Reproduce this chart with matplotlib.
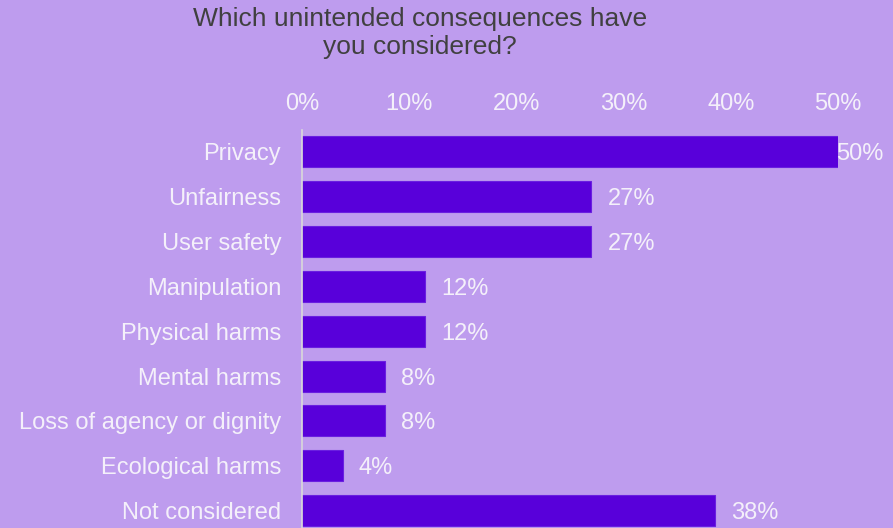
import matplotlib.pyplot as plt
import numpy as np

plt.rcParams['font.family'] = ['Liberation Sans', 'DejaVu Sans']

# ---------------- DATA ----------------
categories = ["Privacy", "Unfairness", "User safety", "Manipulation", "Physical harms",
              "Mental harms", "Loss of agency or dignity", "Ecological harms", "Not considered"]
values = [50, 27, 27, 11.5, 11.5, 7.7, 7.7, 3.8, 38.5]
value_labels = ["50%", "27%", "27%", "12%", "12%", "8%", "8%", "4%", "38%"]
x_ticks = [0, 10, 20, 30, 40, 50]
title = "Which unintended consequences have\nyou considered?"
# --------------------------------------

BG = "#BE9CEE"
BAR = "#5800DA"
WHITE = "#F4F0FA"
FS = 17

fig = plt.figure(figsize=(8.93, 5.28), dpi=100, facecolor=BG)
ax = fig.add_axes([302 / 893, 0, (838 - 302) / 893, 1 - 130 / 528])
ax.set_facecolor(BG)

y = np.arange(len(categories))
ax.barh(y, values, height=0.69, color=BAR, edgecolor="#6A1FE0", linewidth=0.8)

ax.set_xlim(0, 50)
ax.set_ylim(8.39, -0.49)

ax.xaxis.tick_top()
ax.set_xticks(x_ticks)
ax.set_xticklabels([f"{t}%" for t in x_ticks], color=WHITE, fontsize=FS)
ax.set_yticks(y)
ax.set_yticklabels(categories, color=WHITE, fontsize=FS)
ax.tick_params(axis="both", length=0)
ax.tick_params(axis="x", pad=11)
ax.tick_params(axis="y", pad=15)

for s in ["top", "right", "bottom"]:
    ax.spines[s].set_visible(False)
ax.spines["left"].set_color("#D9D9D9")
ax.spines["left"].set_linewidth(1.2)

for yi, v, lab in zip(y, values, value_labels):
    xpos = min(v + 1.5, 49.8)
    ax.text(xpos, yi, lab, va="center_baseline", ha="left", color=WHITE,
            fontsize=FS, clip_on=False)

fig.text(420 / 893, 1 - 33 / 528, title, ha="center", va="center",
         color="#404040", fontsize=19, linespacing=1.25)

fig.savefig("out.png", dpi=100, facecolor=BG)
